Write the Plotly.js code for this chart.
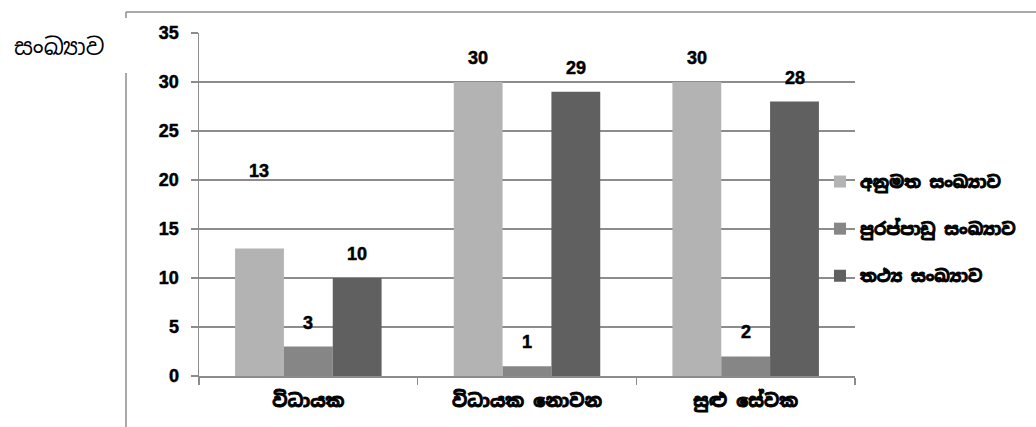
<!DOCTYPE html>
<html>
<head>
<meta charset="utf-8">
<script src="https://cdn.plot.ly/plotly-3.0.1.min.js"></script>
<style>
html,body{margin:0;padding:0;background:#fff;}
#chart{width:1036px;height:427px;}
#chart .xtick text, #chart .legendtext { stroke:#000; stroke-width:0.9px; }
#chart .annotation text { stroke:#000; stroke-width:0.5px; }
#chart .annotation[data-index="9"] text { stroke:none; }
#chart .ytick text { stroke:#000; stroke-width:0.5px; }
</style>
</head>
<body>
<div id="chart"></div>
<script>
const categories = ["විධායක", "විධායක නොවන", "සුළු සේවක"];
const seriesNames = ["අනුමත සංඛ්‍යාව", "පුරප්පාඩු සංඛ්‍යාව", "තථ්‍ය සංඛ්‍යාව"];
const approved = [13, 30, 30];
const vacancies = [3, 1, 2];
const actual = [10, 29, 28];
const yTicks = [0, 5, 10, 15, 20, 25, 30, 35];
const yTitle = "සංඛ්‍යාව";

const colors = ["#b3b3b3", "#868686", "#606060"];
const seriesValues = [approved, vacancies, actual];
const numFont = "'Liberation Sans Narrow', 'Liberation Sans', Arial, sans-serif";
const sinFont = "'Noto Sans Sinhala', 'Iskoola Pota', 'Liberation Sans', sans-serif";

const W = 1036, H = 427;
const L = 199, R = 181, T = 33, B = 51;
const pw = W - L - R, ph = H - T - B;
const px = x => (x - L) / pw;
const py = y => (H - B - y) / ph;

const traces = seriesValues.map((vals, i) => ({
  type: "bar",
  name: seriesNames[i],
  x: categories,
  y: vals,
  marker: {color: colors[i], line: {width: 0}},
  legendgroup: "g" + i,
  hoverinfo: "none"
}));

const annotations = [];
const xshifts = [-49, 0, 49];
seriesValues.forEach((vals, i) => {
  vals.forEach((v, j) => {
    let ys = 24;
    if (i === 0 && j === 0) ys = 78;
    annotations.push({
      x: categories[j], y: v, xref: "x", yref: "y",
      text: String(v), showarrow: false,
      xshift: xshifts[i], yshift: ys, yanchor: "middle",
      font: {family: numFont, size: 18, color: "#000", weight: "bold"}
    });
  });
});
annotations.push({
  xref: "paper", yref: "paper", x: px(59), y: py(47),
  text: yTitle, showarrow: false, xanchor: "center", yanchor: "middle",
  font: {family: sinFont, size: 23, color: "#000"}
});

const frameColor = "#8c8c8c";
const shapes = [
  {type: "line", xref: "paper", yref: "paper", x0: px(126), x1: px(1036), y0: py(12), y1: py(12), line: {color: frameColor, width: 1.5}},
  {type: "line", xref: "paper", yref: "paper", x0: px(126), x1: px(126), y0: py(12), y1: py(18), line: {color: frameColor, width: 1.5}},
  {type: "line", xref: "paper", yref: "paper", x0: px(126), x1: px(126), y0: py(73), y1: py(427), line: {color: frameColor, width: 1.5}}
];

const layout = {
  width: W, height: H,
  margin: {l: L, r: R, t: T, b: B, pad: 0},
  paper_bgcolor: "#fff", plot_bgcolor: "#fff",
  barmode: "group", bargap: 0.33, bargroupgap: 0,
  showlegend: true,
  legend: {
    x: px(820), y: py(164), xanchor: "left", yanchor: "top",
    bgcolor: "rgba(0,0,0,0)", tracegroupgap: 22,
    font: {family: sinFont, size: 17, color: "#000", weight: "bold"},
    itemclick: false
  },
  xaxis: {
    type: "category",
    showline: true, linecolor: frameColor, linewidth: 1.5,
    ticks: "outside", tickson: "boundaries", ticklen: 7, tickcolor: frameColor, tickwidth: 1.5,
    ticklabelstandoff: 8,
    showgrid: false, zeroline: false,
    tickfont: {family: sinFont, size: 18, color: "#000", weight: "bold"}
  },
  yaxis: {
    range: [0, 35], tickvals: yTicks, ticktext: yTicks.map(String),
    showline: true, linecolor: frameColor, linewidth: 1.5,
    ticks: "outside", ticklen: 7, tickcolor: frameColor, tickwidth: 1.5,
    ticklabelstandoff: 8,
    showgrid: true, gridcolor: frameColor, gridwidth: 1.5, zeroline: false,
    tickfont: {family: numFont, size: 18, color: "#000", weight: "bold"}
  },
  annotations: annotations,
  shapes: shapes
};

Plotly.newPlot("chart", traces, layout, {displayModeBar: false, staticPlot: true});
</script>
</body>
</html>
